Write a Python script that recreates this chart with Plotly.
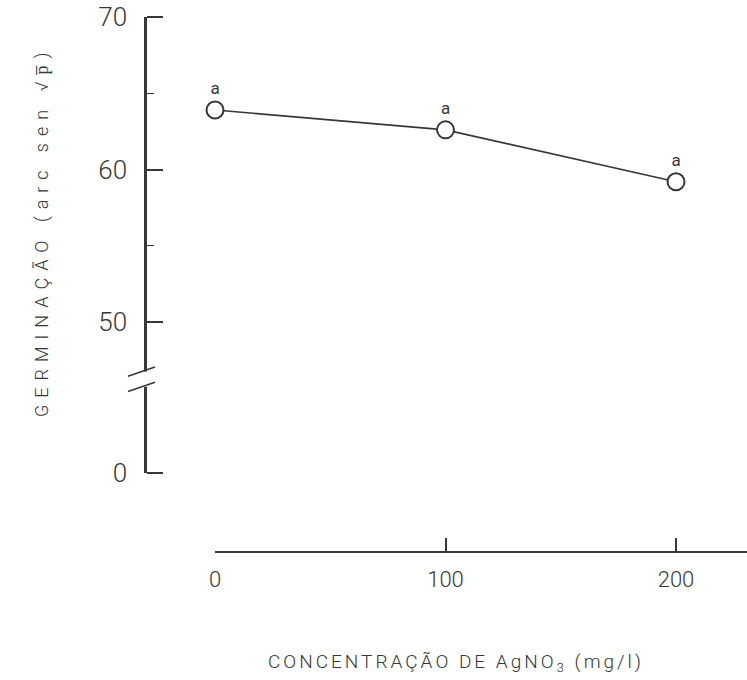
import plotly.graph_objects as go

# Germination (arcsine-transformed) against silver nitrate concentration
conc = [0, 100, 200]
germ = [63.9, 62.6, 59.2]
groups = ["a", "a", "a"]

x_ticks = [0, 100, 200]
x_ticklabels = ["0", "100", "200"]
y_ticks = [50, 60, 70]
y_minor = [55, 65]

# The y axis is broken between 0 and 50: the "0" tick sits just below the break
Y_ZERO_POS = 40.1
BREAK_LOW, BREAK_HIGH = 45.75, 46.75

W, H = 747, 680
ink = "#383838"
font = "Roboto"
Y_DOMAIN = [1 - 473 / H, 1 - 17 / H]
Y_AXIS_X = 145 / W
y_tickvals = [Y_ZERO_POS] + y_ticks
y_ticktext = ["0"] + [str(v) for v in y_ticks]

fig = go.Figure()
fig.add_trace(
    go.Scatter(
        x=conc,
        y=germ,
        mode="lines+markers+text",
        text=groups,
        textposition="top center",
        textfont=dict(size=17, color=ink, family=font),
        line=dict(color=ink, width=1.6),
        marker=dict(symbol="circle", size=17, color="white",
                    line=dict(color=ink, width=2)),
        cliponaxis=False,
        hoverinfo="skip",
    )
)
# empty trace so the overlaid tick axis gets its own subplot
fig.add_trace(go.Scatter(x=[], y=[], yaxis="y2", hoverinfo="skip"))

fig.update_layout(
    width=W,
    height=H,
    margin=dict(l=0, r=0, t=0, b=0),
    paper_bgcolor="white",
    plot_bgcolor="white",
    showlegend=False,
    font=dict(family=font, color=ink),
    xaxis=dict(
        domain=[215 / W, 1],
        range=[0, 230.8],
        anchor="free",
        position=1 - 552 / H,
        automargin=False,
        showline=True,
        linecolor=ink,
        linewidth=2,
        ticks="inside",
        ticklen=13,
        tickwidth=1.5,
        tickcolor=ink,
        tickmode="array",
        tickvals=x_ticks,
        ticktext=x_ticklabels,
        tickfont=dict(size=22, family=font, color=ink, weight=300),
        ticklabelstandoff=8,
        showgrid=False,
        zeroline=False,
    ),
    # labelled y axis; its tick marks are drawn through the minor-tick layer
    yaxis=dict(
        domain=Y_DOMAIN,
        range=[Y_ZERO_POS, 70],
        anchor="free",
        position=Y_AXIS_X,
        side="left",
        automargin=False,
        showline=True,
        linecolor=ink,
        linewidth=2.5,
        ticks="",
        tickmode="array",
        tickvals=y_tickvals,
        ticktext=y_ticktext,
        tickfont=dict(size=26, family=font, color=ink, weight=300),
        ticklabelstandoff=12,
        minor=dict(tickmode="array", tickvals=y_tickvals, ticks="inside",
                   ticklen=16, tickwidth=1.5, tickcolor=ink),
        showgrid=False,
        zeroline=False,
    ),
    # short intermediate ticks on the same y scale
    yaxis2=dict(
        domain=Y_DOMAIN,
        range=[Y_ZERO_POS, 70],
        overlaying="y",
        anchor="free",
        position=Y_AXIS_X,
        side="left",
        automargin=False,
        showline=False,
        ticks="",
        tickmode="array",
        tickvals=y_minor,
        showticklabels=False,
        minor=dict(tickmode="array", tickvals=y_minor, ticks="inside",
                   ticklen=8, tickwidth=1.2, tickcolor=ink),
        showgrid=False,
        zeroline=False,
    ),
)

# Axis break: blank out a short piece of the y axis and mark it with two slashes
fig.add_shape(type="rect", xref="paper", yref="y",
              x0=Y_AXIS_X - 0.01, x1=Y_AXIS_X + 0.01, y0=BREAK_LOW, y1=BREAK_HIGH,
              fillcolor="white", line=dict(width=0), layer="above")
for yb in (BREAK_LOW, BREAK_HIGH):
    fig.add_shape(type="line", xref="paper", yref="y",
                  x0=Y_AXIS_X - 17 / W, x1=Y_AXIS_X + 10 / W,
                  y0=yb - 0.3, y1=yb + 0.3,
                  line=dict(color=ink, width=1.6), layer="above")

# Axis titles
fig.add_annotation(
    xref="paper", yref="paper", x=42 / W, y=1 - 232 / H,
    xanchor="center", yanchor="middle",
    text='<span style="letter-spacing:7px">GERMINAÇÃO (arc sen √p̅)</span>',
    textangle=-90, showarrow=False,
    font=dict(size=18, family=font, color=ink, weight=300),
)
fig.add_annotation(
    xref="paper", yref="paper", x=456 / W, y=1 - 662 / H,
    xanchor="center", yanchor="middle",
    text='<span style="letter-spacing:3px">CONCENTRAÇÃO DE AgNO<sub>3</sub> (mg/l)</span>',
    showarrow=False,
    font=dict(size=19, family=font, color=ink, weight=300),
)

fig.write_html("out.html")
